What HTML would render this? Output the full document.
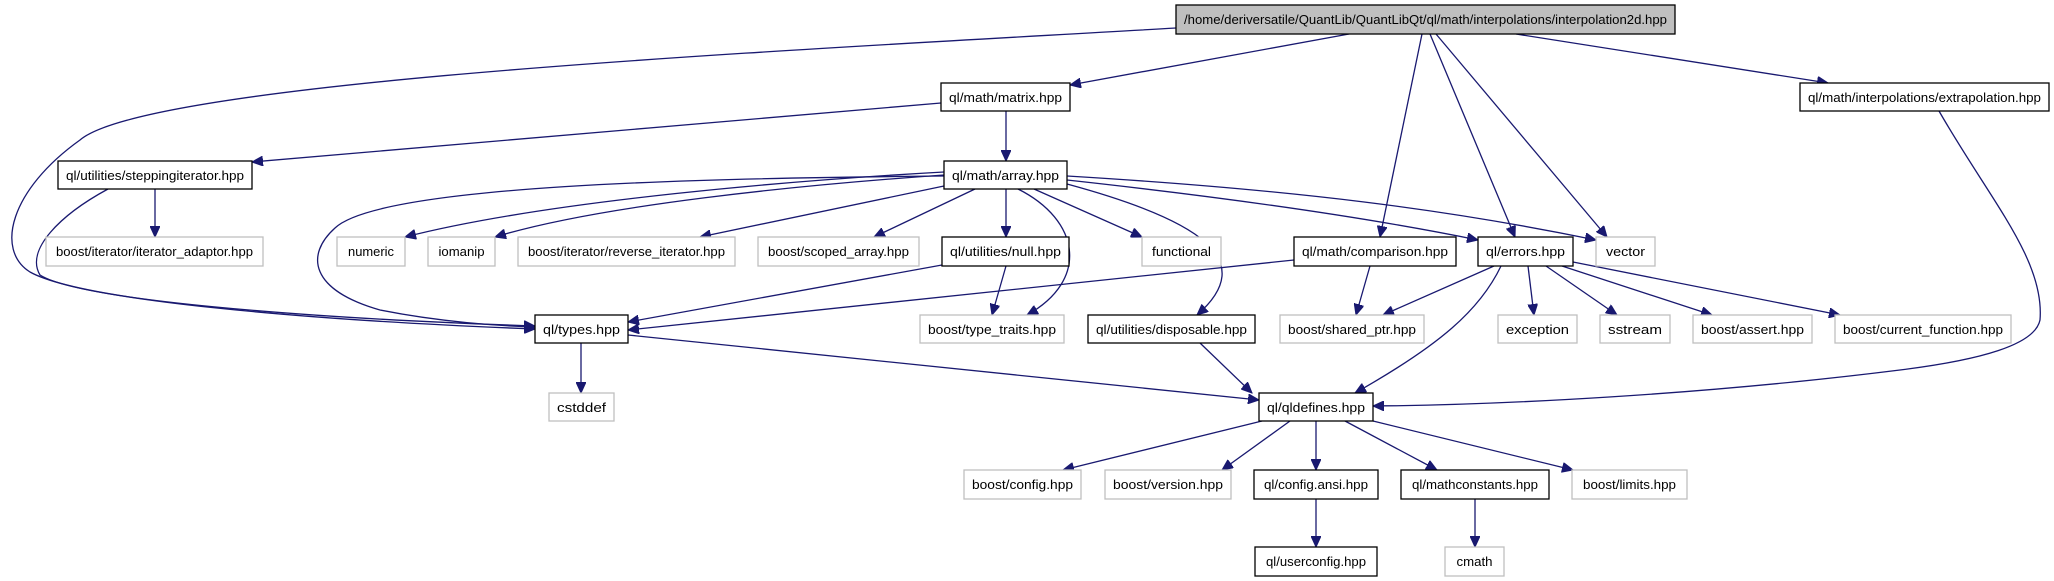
<!DOCTYPE html>
<html><head><meta charset="utf-8"><style>
html,body{margin:0;padding:0;background:#fff;}
svg{display:block;}
text{font-family:"Liberation Sans",sans-serif;font-size:13px;fill:#000;}
</style></head><body>
<svg width="2054" height="581" viewBox="0 0 2054 581" xmlns="http://www.w3.org/2000/svg">
<defs>
<marker id="a" markerWidth="12" markerHeight="10" refX="11" refY="5" orient="auto" markerUnits="userSpaceOnUse">
<path d="M0,0 L11,5 L0,10 z" fill="#191970" stroke="#191970"/>
</marker>
</defs>
<g fill="none" stroke="#191970" stroke-width="1.3" marker-end="url(#a)">
<path d="M1176,28 C800,50 150,80 80,140 C10,190 -5,250 30,272 C80,300 300,320 535,329"/>
<path d="M1349,34 L1070,85"/>
<path d="M1422,34 L1380,237"/>
<path d="M1430,34 L1515,237"/>
<path d="M1436,34 L1607,237"/>
<path d="M1516,34 L1828,83"/>
<path d="M941,103 L252,162"/>
<path d="M1006,111 L1006,161"/>
<path d="M1939,111 C1990,200 2045,260 2040,320 C2035,345 1980,360 1900,370 C1700,395 1500,405 1373,406"/>
<path d="M155,189 L155,237"/>
<path d="M108,189 C60,215 25,250 40,275 C80,300 300,318 535,326"/>
<path d="M944,176 C700,178 380,185 335,228 C305,255 310,290 380,310 C440,322 500,326 535,327"/>
<path d="M944,172 C800,180 550,200 405,237"/>
<path d="M944,175 C800,185 600,205 495,237"/>
<path d="M944,186 L700,237"/>
<path d="M975,189 L874,237"/>
<path d="M1006,189 L1006,237"/>
<path d="M1034,189 L1142,237"/>
<path d="M1018,189 C1080,220 1090,280 1027,315"/>
<path d="M1067,184 C1200,220 1260,260 1197,315"/>
<path d="M1067,180 C1250,200 1380,220 1478,240"/>
<path d="M1067,176 C1300,190 1450,210 1596,240"/>
<path d="M942,265 L628,322"/>
<path d="M1006,266 L992,315"/>
<path d="M1294,260 L628,330"/>
<path d="M1370,266 L1356,315"/>
<path d="M1494,266 L1383,315"/>
<path d="M1501,266 C1480,310 1440,345 1355,393"/>
<path d="M1528,266 L1534,315"/>
<path d="M1546,266 L1617,315"/>
<path d="M1562,266 L1712,315"/>
<path d="M1573,262 L1840,315"/>
<path d="M581,343 L581,393"/>
<path d="M628,335 L1259,400"/>
<path d="M1200,343 L1252,393"/>
<path d="M1262,421 L1063,470"/>
<path d="M1290,421 L1222,470"/>
<path d="M1316,421 L1316,470"/>
<path d="M1345,421 L1437,470"/>
<path d="M1373,421 L1573,470"/>
<path d="M1316,499 L1316,547"/>
<path d="M1475,499 L1475,547"/>
</g>
<g stroke-width="1.3">
<rect x="1176" y="5" width="499" height="29" fill="#bfbfbf" stroke="#000"/>
<text x="1425.5" y="24" text-anchor="middle" textLength="483" lengthAdjust="spacingAndGlyphs">/home/deriversatile/QuantLib/QuantLibQt/ql/math/interpolations/interpolation2d.hpp</text>
</g>
<g fill="#fff" stroke="#000" stroke-width="1.3">
<rect x="941" y="83" width="129" height="28"/>
<rect x="1800" y="83" width="249" height="28"/>
<rect x="58" y="161" width="194" height="28"/>
<rect x="944" y="161" width="123" height="28"/>
<rect x="942" y="237" width="127" height="29"/>
<rect x="1294" y="237" width="162" height="29"/>
<rect x="1478" y="237" width="95" height="29"/>
<rect x="535" y="315" width="93" height="28"/>
<rect x="1088" y="315" width="167" height="28"/>
<rect x="1259" y="393" width="114" height="28"/>
<rect x="1254" y="470" width="124" height="29"/>
<rect x="1401" y="470" width="148" height="29"/>
<rect x="1255" y="547" width="122" height="29"/>
</g>
<g fill="#fff" stroke="#bfbfbf" stroke-width="1.3">
<rect x="46" y="237" width="217" height="29"/>
<rect x="337" y="237" width="68" height="29"/>
<rect x="428" y="237" width="67" height="29"/>
<rect x="518" y="237" width="217" height="29"/>
<rect x="758" y="237" width="161" height="29"/>
<rect x="1142" y="237" width="79" height="29"/>
<rect x="1596" y="237" width="59" height="29"/>
<rect x="920" y="315" width="144" height="28"/>
<rect x="1280" y="315" width="144" height="28"/>
<rect x="1498" y="315" width="79" height="28"/>
<rect x="1600" y="315" width="70" height="28"/>
<rect x="1693" y="315" width="119" height="28"/>
<rect x="1835" y="315" width="176" height="28"/>
<rect x="549" y="393" width="65" height="28"/>
<rect x="964" y="470" width="117" height="29"/>
<rect x="1105" y="470" width="126" height="29"/>
<rect x="1572" y="470" width="115" height="29"/>
<rect x="1445" y="547" width="59" height="29"/>
</g>
<g text-anchor="middle">
<text x="1005.5" y="102" textLength="113" lengthAdjust="spacingAndGlyphs">ql/math/matrix.hpp</text>
<text x="1924.5" y="102" textLength="233" lengthAdjust="spacingAndGlyphs">ql/math/interpolations/extrapolation.hpp</text>
<text x="155" y="180" textLength="178" lengthAdjust="spacingAndGlyphs">ql/utilities/steppingiterator.hpp</text>
<text x="1005.5" y="180" textLength="107" lengthAdjust="spacingAndGlyphs">ql/math/array.hpp</text>
<text x="154.5" y="256" textLength="197" lengthAdjust="spacingAndGlyphs">boost/iterator/iterator_adaptor.hpp</text>
<text x="371" y="256" textLength="46" lengthAdjust="spacingAndGlyphs">numeric</text>
<text x="461.5" y="256" textLength="46" lengthAdjust="spacingAndGlyphs">iomanip</text>
<text x="626.5" y="256" textLength="197" lengthAdjust="spacingAndGlyphs">boost/iterator/reverse_iterator.hpp</text>
<text x="838.5" y="256" textLength="141" lengthAdjust="spacingAndGlyphs">boost/scoped_array.hpp</text>
<text x="1005.5" y="256" textLength="111" lengthAdjust="spacingAndGlyphs">ql/utilities/null.hpp</text>
<text x="1181.5" y="256" textLength="59" lengthAdjust="spacingAndGlyphs">functional</text>
<text x="1375" y="256" textLength="146" lengthAdjust="spacingAndGlyphs">ql/math/comparison.hpp</text>
<text x="1525.5" y="256" textLength="79" lengthAdjust="spacingAndGlyphs">ql/errors.hpp</text>
<text x="1625.5" y="256" textLength="39" lengthAdjust="spacingAndGlyphs">vector</text>
<text x="581.5" y="334" textLength="77" lengthAdjust="spacingAndGlyphs">ql/types.hpp</text>
<text x="992" y="334" textLength="128" lengthAdjust="spacingAndGlyphs">boost/type_traits.hpp</text>
<text x="1171.5" y="334" textLength="151" lengthAdjust="spacingAndGlyphs">ql/utilities/disposable.hpp</text>
<text x="1352" y="334" textLength="128" lengthAdjust="spacingAndGlyphs">boost/shared_ptr.hpp</text>
<text x="1537.5" y="334" textLength="63" lengthAdjust="spacingAndGlyphs">exception</text>
<text x="1635" y="334" textLength="54" lengthAdjust="spacingAndGlyphs">sstream</text>
<text x="1752.5" y="334" textLength="103" lengthAdjust="spacingAndGlyphs">boost/assert.hpp</text>
<text x="1923" y="334" textLength="160" lengthAdjust="spacingAndGlyphs">boost/current_function.hpp</text>
<text x="581.5" y="412" textLength="49" lengthAdjust="spacingAndGlyphs">cstddef</text>
<text x="1316" y="412" textLength="98" lengthAdjust="spacingAndGlyphs">ql/qldefines.hpp</text>
<text x="1022.5" y="489" textLength="101" lengthAdjust="spacingAndGlyphs">boost/config.hpp</text>
<text x="1168" y="489" textLength="110" lengthAdjust="spacingAndGlyphs">boost/version.hpp</text>
<text x="1316" y="489" textLength="104" lengthAdjust="spacingAndGlyphs">ql/config.ansi.hpp</text>
<text x="1475" y="489" textLength="126" lengthAdjust="spacingAndGlyphs">ql/mathconstants.hpp</text>
<text x="1629.5" y="489" textLength="93" lengthAdjust="spacingAndGlyphs">boost/limits.hpp</text>
<text x="1316" y="566" textLength="100" lengthAdjust="spacingAndGlyphs">ql/userconfig.hpp</text>
<text x="1474.5" y="566" textLength="36" lengthAdjust="spacingAndGlyphs">cmath</text>
</g>
</svg>
</body></html>
